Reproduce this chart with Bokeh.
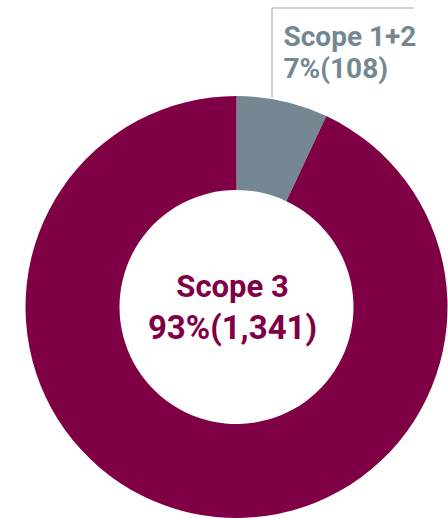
import math
from bokeh.plotting import figure
from bokeh.models import ColumnDataSource, Range1d
from bokeh.core.properties import value
from bokeh.embed import file_html
from bokeh.resources import INLINE

# ---- data ----
labels = ["Scope 1+2", "Scope 3"]
shares = [7, 93]            # percent
counts = [108, 1341]
colors = ["#748793", "#800046"]

W, H = 448, 518
p = figure(width=W, height=H, output_backend="svg", toolbar_location=None,
           x_range=Range1d(0, W), y_range=Range1d(0, H), min_border=0)
p.axis.visible = False
p.grid.visible = False
p.outline_line_color = None
p.background_fill_color = "white"
p.border_fill_color = "white"

cx, cy = 236, H - 306.5
R_out, R_in = 211, 117

# angles: start at 12 o'clock and go clockwise
total = sum(shares)
starts, ends = [], []
acc = 0.0
for s in shares:
    a0 = math.pi / 2 - 2 * math.pi * acc / total
    a1 = math.pi / 2 - 2 * math.pi * (acc + s) / total
    starts.append(a1)
    ends.append(a0)
    acc += s

src = ColumnDataSource(dict(start=starts, end=ends, color=colors))
p.annular_wedge(x=cx, y=cy, inner_radius=R_in, outer_radius=R_out,
                start_angle="start", end_angle="end", fill_color="color",
                line_color=None, source=src)

# leader line for Scope 1+2
lx = 271.5
p.line(x=[lx, lx, 413], y=[H - 97, H - 7.5, H - 7.5], line_color="#9aa6b0", line_width=1)

def fmt(n):
    return f"{n:,}"

# label for Scope 1+2
p.text(x=[283, 283], y=[H - 36, H - 68],
       text=[labels[0], f"{shares[0]}%({fmt(counts[0])})"],
       text_font=value("Roboto"), text_font_style="bold", text_font_size="28px",
       text_color=colors[0], text_align="left", text_baseline="alphabetic")

# centre label for Scope 3
p.text(x=[232], y=[H - 286], text=[labels[1]],
       text_font=value("Roboto"), text_font_style="bold", text_font_size="31px",
       text_color=colors[1], text_align="center", text_baseline="alphabetic")
p.text(x=[232], y=[H - 327], text=[f"{shares[1]}%({fmt(counts[1])})"],
       text_font=value("Roboto"), text_font_style="bold", text_font_size="33px",
       text_color=colors[1], text_align="center", text_baseline="alphabetic")

open("out.html", "w").write(file_html(p, INLINE))
